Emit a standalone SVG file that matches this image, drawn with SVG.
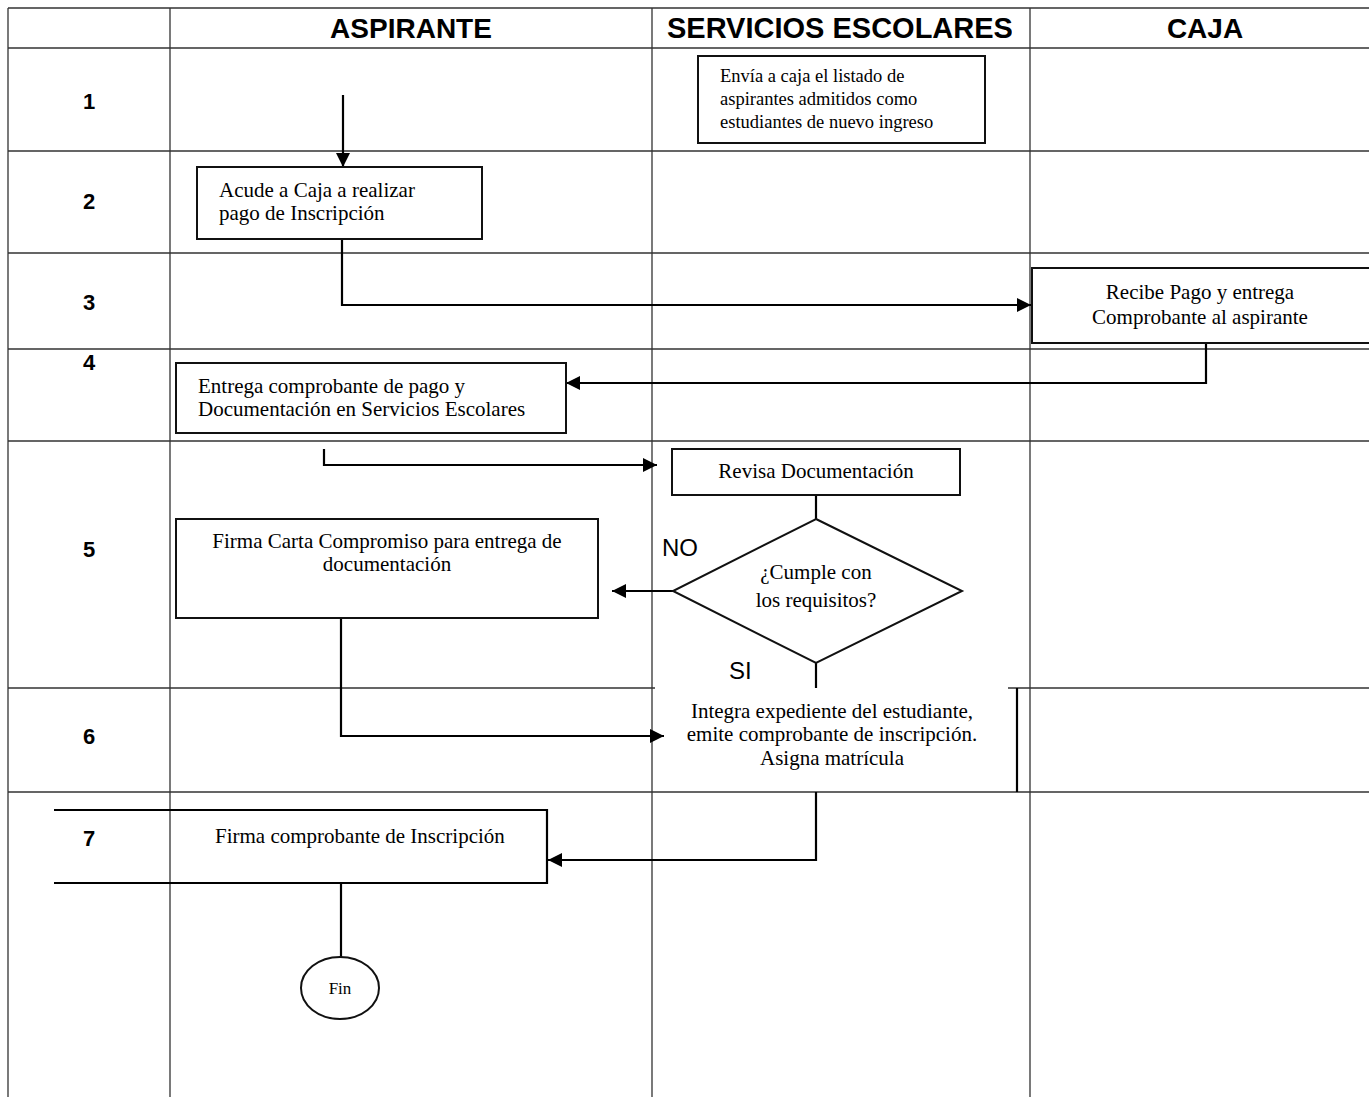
<svg xmlns="http://www.w3.org/2000/svg" width="1369" height="1097" viewBox="0 0 1369 1097">
<style>
.grid{stroke:#333;stroke-width:1.3;fill:none}
.box{fill:#fff;stroke:#111;stroke-width:2}
.conn{fill:none;stroke:#000;stroke-width:2.2}
.hdr{font-family:"Liberation Sans",Arial,sans-serif;font-weight:bold;font-size:28px;fill:#000;text-anchor:middle}
.num{font-family:"Liberation Sans",Arial,sans-serif;font-weight:bold;font-size:22px;fill:#000;text-anchor:middle}
.t{font-family:"Liberation Serif","Times New Roman",serif;font-size:21px;fill:#000}
.ts{font-family:"Liberation Serif","Times New Roman",serif;font-size:18.5px;fill:#000}
.c{text-anchor:middle}
.lbl{font-family:"Liberation Sans",Arial,sans-serif;font-size:24px;fill:#000}
</style>
<defs>
<marker id="ah" viewBox="0 0 10 10" refX="10" refY="5" markerWidth="14" markerHeight="14" markerUnits="userSpaceOnUse" orient="auto"><path d="M0,0 L10,5 L0,10 z" fill="#000"/></marker>
<clipPath id="clipSE"><rect x="652" y="8" width="360" height="40"/></clipPath>
</defs>
<rect x="0" y="0" width="1369" height="1097" fill="#fff"/>
<g id="grid">
<path class="grid" d="M8,8 H1369 M8,8 V1097 M170,8 V1097 M652,8 V1097 M1030,8 V1097 M8,48 H1369 M8,151 H1369 M8,253 H1369 M8,349 H1369 M8,441 H1369 M8,688 H655 M1008,688 H1369 M8,792 H1369"/>
<path d="M1017,688 V792" stroke="#000" stroke-width="2.2" fill="none"/>
</g>
<g id="headers">
<text class="hdr" x="411" y="38">ASPIRANTE</text>
<text class="hdr" x="667" y="38" style="text-anchor:start;font-size:29px" clip-path="url(#clipSE)">SERVICIOS ESCOLARES</text>
<text class="hdr" x="1205" y="38">CAJA</text>
<text class="num" x="89" y="109">1</text>
<text class="num" x="89" y="209">2</text>
<text class="num" x="89" y="310">3</text>
<text class="num" x="89" y="370">4</text>
<text class="num" x="89" y="557">5</text>
<text class="num" x="89" y="744">6</text>
<text class="num" x="89" y="846">7</text>
</g>
<g id="connectors">
<path class="conn" d="M343,95 V167" marker-end="url(#ah)"/>
<path class="conn" d="M342,239 V305 H1031" marker-end="url(#ah)"/>
<path class="conn" d="M1206,343 V383 H566" marker-end="url(#ah)"/>
<path class="conn" d="M324,449 V465 H657" marker-end="url(#ah)"/>
<path class="conn" d="M816,495 V519"/>
<path class="conn" d="M673,591 H612" marker-end="url(#ah)"/>
<path class="conn" d="M816,663 V688"/>
<path class="conn" d="M341,618 V736 H664" marker-end="url(#ah)"/>
<path class="conn" d="M816,792 V860 H548" marker-end="url(#ah)"/>
<path class="conn" d="M341,883 V957"/>
</g>
<g id="n1">
<rect class="box" x="698" y="56" width="287" height="87"/>
<text class="ts" x="720" y="82">Envía a caja el listado de</text>
<text class="ts" x="720" y="105">aspirantes admitidos como</text>
<text class="ts" x="720" y="128">estudiantes de nuevo ingreso</text>
</g>
<g id="n2">
<rect class="box" x="197" y="167" width="285" height="72"/>
<text class="t" x="219" y="197">Acude a Caja a realizar</text>
<text class="t" x="219" y="220">pago de Inscripción</text>
</g>
<g id="n3">
<rect class="box" x="1032" y="268" width="345" height="75"/>
<text class="t c" x="1200" y="299">Recibe Pago y entrega</text>
<text class="t c" x="1200" y="324">Comprobante al aspirante</text>
</g>
<g id="n4">
<rect class="box" x="176" y="363" width="390" height="70"/>
<text class="t" x="198" y="393">Entrega comprobante de pago y</text>
<text class="t" x="198" y="416">Documentación en Servicios Escolares</text>
</g>
<g id="n5">
<rect class="box" x="672" y="449" width="288" height="46"/>
<text class="t c" x="816" y="478">Revisa Documentación</text>
</g>
<g id="n6">
<path class="box" d="M816,519 L962,591 L816,663 L673,591 Z"/>
<text class="t c" x="816" y="579">¿Cumple con</text>
<text class="t c" x="816" y="607">los requisitos?</text>
<text class="lbl" x="662" y="556">NO</text>
<text class="lbl" x="729" y="679">SI</text>
</g>
<g id="n7">
<rect class="box" x="176" y="519" width="422" height="99"/>
<text class="t c" x="387" y="548">Firma Carta Compromiso para entrega de</text>
<text class="t c" x="387" y="571">documentación</text>
</g>
<g id="n8">
<text class="t c" x="832" y="718">Integra expediente del estudiante,</text>
<text class="t c" x="832" y="741">emite comprobante de inscripción.</text>
<text class="t c" x="832" y="765">Asigna matrícula</text>
</g>
<g id="n9">
<path d="M54,810 H547 V883 H54" fill="none" stroke="#000" stroke-width="2.2"/>
<text class="t" x="215" y="843">Firma comprobante de Inscripción</text>
</g>
<g id="n10">
<ellipse class="box" cx="340" cy="988" rx="39" ry="31"/>
<text class="t c" x="340" y="994" style="font-size:17px">Fin</text>
</g>
</svg>
